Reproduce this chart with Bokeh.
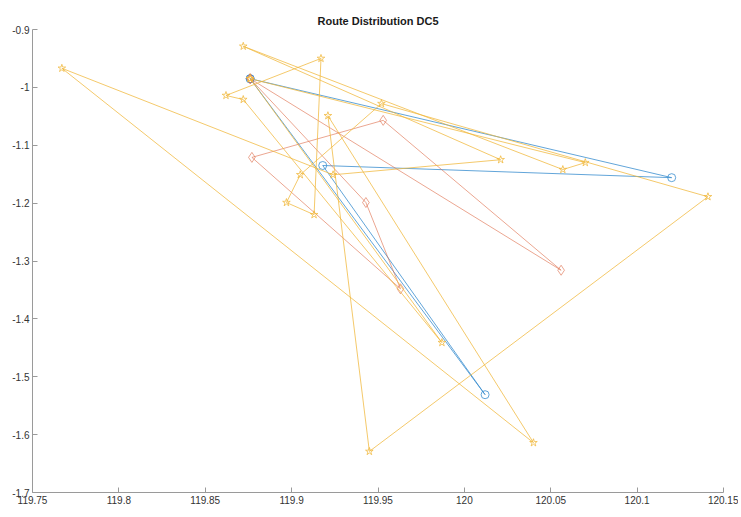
from bokeh.plotting import figure
from bokeh.models import Range1d, FixedTicker, ColumnDataSource
from bokeh.embed import file_html
from bokeh.resources import INLINE

# Route 1 (blue, circles): depot -> customers -> depot
route1_x = [119.876, 120.120, 119.918, 120.012, 119.876]
route1_y = [-0.985, -1.156, -1.135, -1.531, -0.985]

# Route 2 (red, diamonds)
route2_x = [119.876, 120.056, 119.953, 119.877, 119.963, 119.943, 119.876]
route2_y = [-0.985, -1.316, -1.057, -1.121, -1.348, -1.199, -0.985]

# Route 3 (yellow, pentagrams)
route3_x = [119.876, 119.987, 119.872, 119.862, 119.917, 119.913, 119.897,
            119.905, 119.952, 120.141, 119.945, 119.921, 120.040, 119.767,
            119.924, 120.021, 119.872, 120.057, 120.070, 119.876]
route3_y = [-0.985, -1.441, -1.021, -1.014, -0.950, -1.220, -1.199,
            -1.151, -1.028, -1.189, -1.629, -1.049, -1.614, -0.967,
            -1.151, -1.125, -0.929, -1.142, -1.130, -0.985]

x_ticks = [119.75, 119.8, 119.85, 119.9, 119.95, 120.0, 120.05, 120.1, 120.15]
x_labels = ["119.75", "119.8", "119.85", "119.9", "119.95", "120", "120.05", "120.1", "120.15"]
y_ticks = [-1.7, -1.6, -1.5, -1.4, -1.3, -1.2, -1.1, -1.0, -0.9]
y_labels = ["-1.7", "-1.6", "-1.5", "-1.4", "-1.3", "-1.2", "-1.1", "-1", "-0.9"]

title_text = "Route Distribution DC5"

p = figure(width=738, height=514, output_backend="svg", toolbar_location=None,
           x_range=Range1d(119.75, 120.15), y_range=Range1d(-1.7, -0.9),
           min_border_left=32, min_border_right=15, min_border_top=29,
           min_border_bottom=22, title=title_text)

p.title.align = "center"
p.title.text_font = "Liberation Sans"
p.title.text_font_size = "11px"
p.title.text_font_style = "bold"
p.title.text_color = "#1a1a1a"
p.title.standoff = 5

p.outline_line_color = None
p.background_fill_color = "white"
p.border_fill_color = "white"
p.xgrid.visible = False
p.ygrid.visible = False

for ax in (p.xaxis[0], p.yaxis[0]):
    ax.axis_line_color = "#9a9a9a"
    ax.major_tick_line_color = "#9a9a9a"
    ax.major_tick_in = 5
    ax.major_tick_out = 0
    ax.minor_tick_line_color = None
    ax.major_label_text_font = "Liberation Sans"
    ax.major_label_text_font_size = "10px"
    ax.major_label_text_color = "#333333"
    ax.major_label_standoff = 3

p.xaxis[0].ticker = FixedTicker(ticks=x_ticks)
p.xaxis[0].major_label_overrides = {t: l for t, l in zip(x_ticks, x_labels)}
p.yaxis[0].ticker = FixedTicker(ticks=y_ticks)
p.yaxis[0].major_label_overrides = {t: l for t, l in zip(y_ticks, y_labels)}

styles = [
    (route1_x, route1_y, "#3b8fd0", 0.8, "circle", 8),
    (route2_x, route2_y, "#dd6a48", 0.6, "diamond", 10),
    (route3_x, route3_y, "#f0b73a", 0.75, "star", 8),
]
for xs, ys, color, alpha, marker, size in styles:
    src = ColumnDataSource(data=dict(x=xs, y=ys))
    p.line("x", "y", source=src, line_color=color, line_alpha=alpha, line_width=1)
    p.scatter("x", "y", source=src, marker=marker, size=size, line_color=color,
              line_alpha=alpha, fill_alpha=0, line_width=1)

open("out.html", "w").write(file_html(p, INLINE))
